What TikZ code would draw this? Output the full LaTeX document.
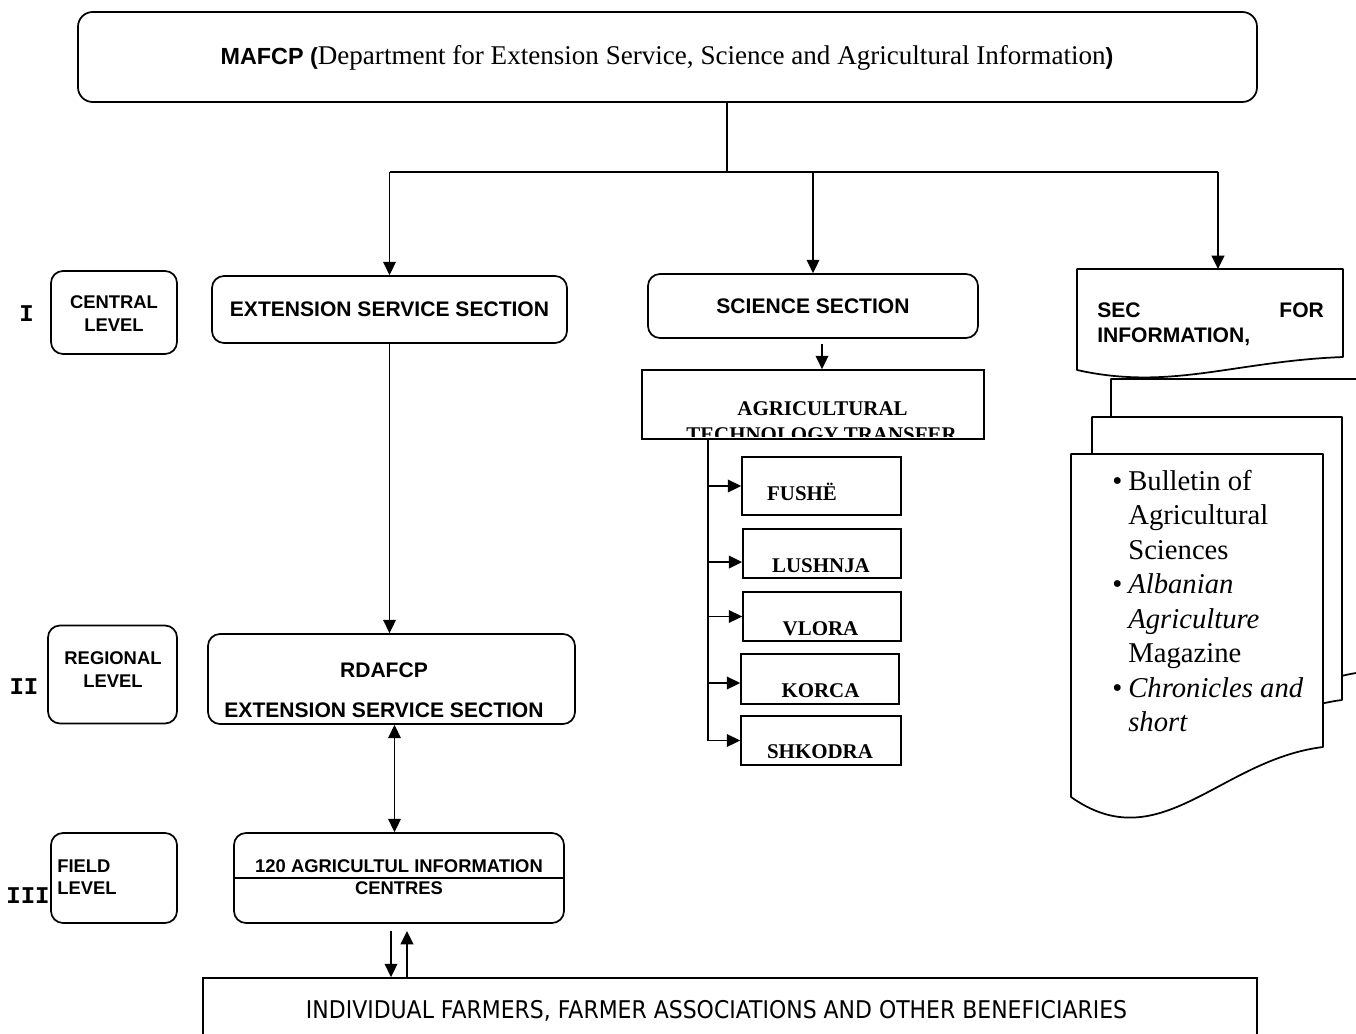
\documentclass[tikz,border=0pt]{standalone}
\usepackage{fontspec}
\setmainfont{Liberation Serif}
\setsansfont{Liberation Sans}
\setmonofont{Liberation Mono}
\newfontfamily\condfont[FakeStretch=0.9]{DejaVu Sans}
\usetikzlibrary{arrows.meta}
\newcommand\fSB{\sffamily\bfseries\fontsize{15.8}{19}\selectfont}
\newcommand\fLV{\sffamily\bfseries\fontsize{13.8}{16}\selectfont}
\newcommand\fTB{\rmfamily\bfseries\fontsize{15.7}{19}\selectfont}
\newcommand\fRom{\ttfamily\bfseries\fontsize{18}{21}\selectfont}
\newcommand\fPub{\rmfamily\fontsize{21.5}{25.9}\selectfont}
\newcommand\fBen{\condfont\fontsize{18.3}{22}\selectfont}
\newcommand\docshape[6]{\draw[ln, fill=white, line join=round] (#1,#2) -- ({#1+#3},#2) -- ({#1+#3},{#2+#5}) .. controls ({#1+0.59*#3},{#2+#5+0.2*#6}) and ({#1+0.353*#3},{#2+#4+#6}) .. (#1,{#2+#4}) -- cycle;}
\def\u{0.75pt}
\tikzset{
  ln/.style={line width=1.3pt},
  rbox/.style={draw, line width=1.3pt, rounded corners=9pt, inner sep=0pt, fill=white},
  sbox/.style={draw, line width=1.3pt, inner sep=0pt, fill=white},
  arr/.style={line width=1.3pt, -{Triangle[length=10pt,width=9.5pt]}},
  darr/.style={line width=1.3pt, {Triangle[length=10pt,width=9.5pt]}-{Triangle[length=10pt,width=9.5pt]}},
  txt/.style={inner sep=0pt, anchor=base},
  txtw/.style={inner sep=0pt, anchor=base west},
}
\begin{document}
\begin{tikzpicture}[x=0.75pt, y=-0.75pt]
\useasboundingbox (0,0) rectangle (1356,1034);
\fill[white] (0,0) rectangle (1356,1034);
\clip (0,0) rectangle (1356,1034);

% top box
\node[rbox, rounded corners=11pt, minimum width=1179*\u, minimum height=90*\u] (mafcp) at (667.5,57) {};
\node[txt] (mafcpT) at (667,65) {{\sffamily\bfseries\fontsize{17.5}{20}\selectfont MAFCP (}{\rmfamily\fontsize{20.3}{24}\selectfont Department for Extension Service, Science and Agricultural Information}{\sffamily\bfseries\fontsize{17.5}{20}\selectfont )}};

% level boxes
\node[rbox, minimum width=126*\u, minimum height=83*\u] (central) at (114,312.5) {};
\node[txt, font=\fLV] (centralA) at (114,308) {CENTRAL};
\node[txt, font=\fLV] (centralB) at (114,331) {LEVEL};
\node[rbox, minimum width=129*\u, minimum height=98*\u] (regional) at (112.5,674.5) {};
\node[txt, font=\fLV] (regionalA) at (113,664) {REGIONAL};
\node[txt, font=\fLV] (regionalB) at (113,687) {LEVEL};
\node[rbox, minimum width=126*\u, minimum height=90*\u] (field) at (114,878) {};
\node[txtw, font=\fLV] (fieldA) at (57,872) {FIELD};
\node[txtw, font=\fLV] (fieldB) at (57,894) {LEVEL};
\node[txt, font=\fRom] (romI) at (26.5,321) {I};
\node[txt, font=\fRom] (romII) at (24,694) {II};
\node[txt, font=\fRom] (romIII) at (28,903) {III};

% extension service column
\node[rbox, font=\fSB, minimum width=355*\u, minimum height=67*\u] (ext) at (389.5,309.5) {EXTENSION SERVICE SECTION};
\node[rbox, minimum width=367*\u, minimum height=90*\u] (rdafcp) at (391.5,679) {};
\node[txt, font=\fSB] (rdafcpA) at (384,677) {RDAFCP};
\node[txt, font=\fSB] (rdafcpB) at (384,717) {EXTENSION SERVICE SECTION};
\node[rbox, minimum width=330*\u, minimum height=90*\u] (aic) at (399,878) {};
\draw[ln] (aic.west) -- (aic.east);
\node[txt, font=\fLV] (aicA) at (399,872) {120 AGRICULTUL INFORMATION};
\node[txt, font=\fLV] (aicB) at (399,894) {CENTRES};

% science column
\node[rbox, font=\fSB, minimum width=330*\u, minimum height=64*\u] (sci) at (813,306) {SCIENCE SECTION};
\node[sbox, minimum width=342*\u, minimum height=69*\u] (agri) at (813,404.5) {};
\begin{scope}
  \clip (643,372) rectangle (983,436.5);
  \node[txt, font=\fTB] (agriA) at (822.5,415) {AGRICULTURAL};
  \node[txt, font=\fTB] (agriB) at (821.5,441) {TECHNOLOGY TRANSFER};
\end{scope}

\node[sbox, minimum width=159*\u, minimum height=58*\u] (fushe) at (821.5,486) {};
\node[sbox, minimum width=158*\u, minimum height=49*\u] (lushnja) at (822,553.5) {};
\node[sbox, minimum width=158*\u, minimum height=49*\u] (vlora) at (822,616.5) {};
\node[sbox, minimum width=158*\u, minimum height=50*\u] (korca) at (820,679) {};
\node[sbox, minimum width=160*\u, minimum height=49*\u] (shkodra) at (821,740.5) {};
\node[txt, font=\fTB] (fusheT) at (802,500) {FUSHË};
\node[txt, font=\fTB] (lushnjaT) at (821,572) {LUSHNJA};
\node[txt, font=\fTB] (vloraT) at (820.5,635) {VLORA};
\node[txt, font=\fTB] (korcaT) at (820.5,697) {KORCA};
\node[txt, font=\fTB] (shkodraT) at (820,758) {SHKODRA};

% information column
\docshape{1077}{269}{266}{101}{88}{21}
\node[txtw, font=\fSB] (secA) at (1097,317) {\makebox[170pt][l]{SEC\hfill FOR}};
\node[txtw, font=\fSB] (secB) at (1097,342) {INFORMATION,};
\coordinate (secTop) at (1218,269);

\docshape{1111}{379}{252}{343}{293}{63}
\docshape{1092}{417}{250}{333}{283}{63}
\docshape{1071}{454}{252}{343}{293}{63}
\node[inner sep=0pt, anchor=base west, font=\fPub] (pubs) at (1112,490) {%
\begin{tabular}[t]{@{}l@{\hspace{4.5pt}}l@{}}
• & Bulletin of\\
  & Agricultural\\
  & Sciences\\
• & \textit{Albanian}\\
  & \textit{Agriculture}\\
  & Magazine\\
• & \textit{Chronicles and}\\
  & \textit{short}
\end{tabular}};

% beneficiaries
\node[sbox, minimum width=1054*\u, minimum height=64*\u] (benef) at (730,1010) {};
\node[txt, font=\fBen] (benefT) at (716.5,1018) {INDIVIDUAL FARMERS, FARMER ASSOCIATIONS AND OTHER BENEFICIARIES};

% connectors
\coordinate (bus) at (727,172);
\draw[ln] (mafcp.south -| bus) -- (bus);
\draw[ln] (bus -| ext.north) -- (bus -| secTop);
\draw[arr] (bus -| ext.north) -- (ext.north);
\draw[arr] (bus -| sci.north) -- (sci.north);
\draw[arr] (bus -| secTop) -- (secTop);
\draw[arr] (ext.south) -- (ext.south |- rdafcp.north);
\coordinate (dv) at (394.5,0);
\draw[darr] (rdafcp.south -| dv) -- (aic.north -| dv);
\coordinate (saTop) at (822,344);
\draw[arr] (saTop) -- (agri.north -| saTop);
\coordinate (br) at (708,0);
\draw[ln] (agri.south -| br) -- (br |- shkodra.west);
\coordinate (lb) at ([yshift=-6.4pt]lushnja.west);
\coordinate (kb) at ([yshift=-3pt]korca.west);
\draw[arr] (br |- fushe.west) -- (fushe.west);
\draw[arr] (br |- lb) -- (lb);
\draw[arr] (br |- vlora.west) -- (vlora.west);
\draw[arr] (br |- kb) -- (kb);
\draw[arr] (br |- shkodra.west) -- (shkodra.west);
\coordinate (dn) at (391,931);
\coordinate (up) at (407,931);
\draw[arr] (dn) -- (benef.north -| dn);
\draw[arr] (benef.north -| up) -- (up);
\end{tikzpicture}
\end{document}
